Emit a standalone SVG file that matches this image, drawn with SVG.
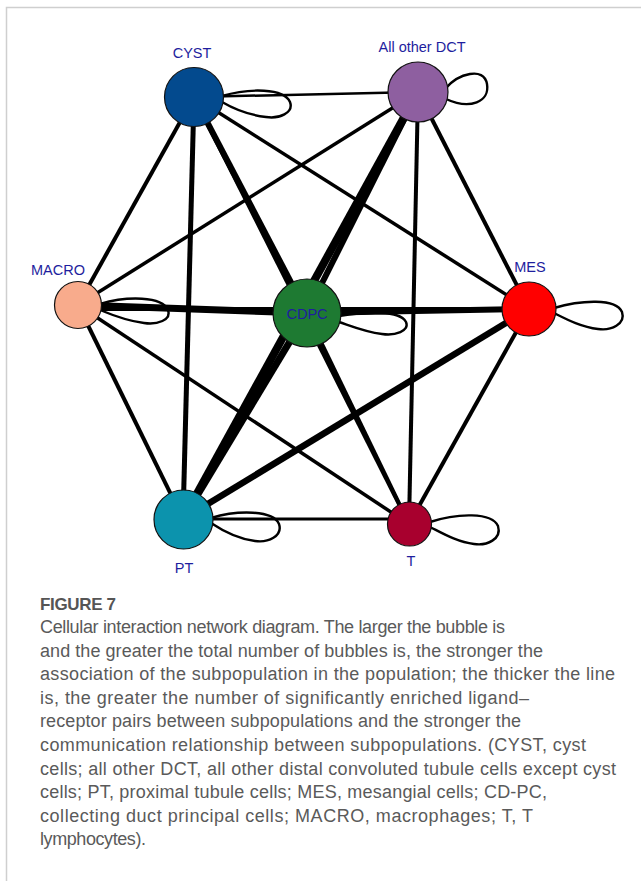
<svg xmlns="http://www.w3.org/2000/svg" width="641" height="881" viewBox="0 0 641 881">
<style>
.lbl{font-family:"Liberation Sans",Arial,sans-serif;font-size:14.5px;fill:#1e1e9e;text-anchor:middle}
.cap{font-family:"Liberation Sans",Arial,sans-serif;font-size:18px;fill:#5a5a5a}
.fig{font-family:"Liberation Sans",Arial,sans-serif;font-size:17px;font-weight:bold;fill:#555}
.node{stroke:#111;stroke-width:1.2}
.e{stroke:#000;stroke-linecap:butt;fill:none}
.loop{stroke:#000;stroke-width:2.4;fill:none}
</style>
<rect width="641" height="881" fill="#fff"/>
<path d="M6.5,881 V7.5 H641" fill="none" stroke="#cfcfcf" stroke-width="1.5"/>
<g id="connectors">
<line class="e" x1="194" y1="97" x2="418" y2="92" stroke-width="2.5"/>
<line class="e" x1="194" y1="97" x2="78" y2="305" stroke-width="4"/>
<line class="e" x1="194" y1="97" x2="307" y2="313" stroke-width="6"/>
<line class="e" x1="194" y1="97" x2="529" y2="309" stroke-width="3.5"/>
<line class="e" x1="194" y1="97" x2="183" y2="519" stroke-width="5"/>
<line class="e" x1="194" y1="97" x2="409" y2="524" stroke-width="4"/>
<line class="e" x1="418" y1="92" x2="78" y2="305" stroke-width="3.5"/>
<line class="e" x1="418" y1="92" x2="307" y2="313" stroke-width="6"/>
<line class="e" x1="418" y1="92" x2="183" y2="519" stroke-width="8"/>
<line class="e" x1="418" y1="92" x2="529" y2="309" stroke-width="4"/>
<line class="e" x1="418" y1="92" x2="409" y2="524" stroke-width="4"/>
<line class="e" x1="78" y1="305" x2="307" y2="313" stroke-width="7"/>
<line class="e" x1="78" y1="309" x2="529" y2="309" stroke-width="4"/>
<line class="e" x1="78" y1="305" x2="183" y2="519" stroke-width="4"/>
<line class="e" x1="78" y1="305" x2="409" y2="524" stroke-width="3.5"/>
<line class="e" x1="307" y1="313" x2="529" y2="309" stroke-width="6"/>
<line class="e" x1="307" y1="313" x2="183" y2="519" stroke-width="7"/>
<line class="e" x1="307" y1="313" x2="409" y2="524" stroke-width="4"/>
<line class="e" x1="529" y1="309" x2="183" y2="519" stroke-width="6.5"/>
<line class="e" x1="529" y1="309" x2="409" y2="524" stroke-width="4"/>
<line class="e" x1="183" y1="519" x2="409" y2="519" stroke-width="3"/>
<path class="loop" d="M222,96 C249,88 284,88 290,102 C294,113 279,119 266,117 C249,115 234,109 222,102"/>
<path class="loop" d="M446,88 C458,74 484,66 487,84 C490,102 470,110 446,99"/>
<path class="loop" d="M100,304 C127,296 162,296 168,310 C172,320 157,325 144,323 C127,321 112,315 100,310"/>
<path class="loop" d="M339,316 C366,312 400,310 406,322 C410,331 395,336 382,334 C365,332 351,326 339,322"/>
<path class="loop" d="M554,308 C581,300 616,298 622,312 C626,324 611,331 598,329 C581,327 566,319 554,313"/>
<path class="loop" d="M211,518 C238,510 273,510 279,524 C283,536 268,543 255,541 C238,539 223,531 211,523"/>
<path class="loop" d="M430,522 C457,513 492,512 498,526 C502,539 487,546 474,544 C457,542 442,533 430,527"/>
</g>
<g id="CYST"><circle class="node" cx="194" cy="97" r="29.5" fill="#034a8e"/><text class="lbl" x="192" y="58">CYST</text></g>
<g id="DCT"><circle class="node" cx="418" cy="92" r="30" fill="#8e5fa0"/><text class="lbl" x="422" y="52">All other DCT</text></g>
<g id="MACRO"><circle class="node" cx="78" cy="305" r="23.5" fill="#f8ab8c"/><text class="lbl" x="58" y="275">MACRO</text></g>
<g id="CDPC"><circle class="node" cx="307" cy="313" r="34" fill="#1e7a32"/><text class="lbl" x="307" y="319">CDPC</text></g>
<g id="MES"><circle class="node" cx="529" cy="309" r="27" fill="#ff0000"/><text class="lbl" x="530" y="272">MES</text></g>
<g id="PT"><circle class="node" cx="183.5" cy="519.5" r="29.5" fill="#0c93ad"/><text class="lbl" x="184" y="573">PT</text></g>
<g id="T"><circle class="node" cx="409.5" cy="524" r="22" fill="#a8002e"/><text class="lbl" x="411" y="566">T</text></g>
<g id="caption">
<text class="fig" x="40" y="610" textLength="76">FIGURE 7</text>
<text class="cap" x="40" y="633" textLength="465">Cellular interaction network diagram. The larger the bubble is</text>
<text class="cap" x="40" y="657" textLength="503">and the greater the total number of bubbles is, the stronger the</text>
<text class="cap" x="40" y="680" textLength="575">association of the subpopulation in the population; the thicker the line</text>
<text class="cap" x="40" y="704" textLength="489">is, the greater the number of significantly enriched ligand–</text>
<text class="cap" x="40" y="727" textLength="481">receptor pairs between subpopulations and the stronger the</text>
<text class="cap" x="40" y="751" textLength="546">communication relationship between subpopulations. (CYST, cyst</text>
<text class="cap" x="40" y="775" textLength="576">cells; all other DCT, all other distal convoluted tubule cells except cyst</text>
<text class="cap" x="40" y="798" textLength="507">cells; PT, proximal tubule cells; MES, mesangial cells; CD-PC,</text>
<text class="cap" x="40" y="822" textLength="493">collecting duct principal cells; MACRO, macrophages; T, T</text>
<text class="cap" x="40" y="845" textLength="106">lymphocytes).</text>
</g>
</svg>
